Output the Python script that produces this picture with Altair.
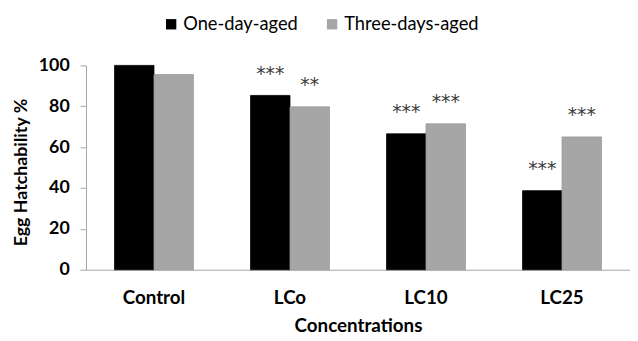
import altair as alt
import pandas as pd

categories = ["Control", "LCo", "LC10", "LC25"]
series_names = ["One-day-aged", "Three-days-aged"]
one_day = [100, 85.3, 66.5, 38.7]
three_days = [95.5, 79.7, 71.4, 65.0]
sig_one = ["", "***", "***", "***"]
sig_three = ["", "**", "***", "***"]

rows = []
for i, c in enumerate(categories):
    rows.append({"conc": c, "series": series_names[0], "value": one_day[i], "sig": sig_one[i]})
    rows.append({"conc": c, "series": series_names[1], "value": three_days[i], "sig": sig_three[i]})
df = pd.DataFrame(rows)

FONT = "Lato"

base = alt.Chart(df).encode(
    x=alt.X(
        "conc:N",
        sort=categories,
        scale=alt.Scale(paddingInner=0.42, paddingOuter=0.21),
        axis=alt.Axis(
            title="Concentrations",
            labelAngle=0,
            ticks=False,
            domainColor="#a6a6a6",
            labelFont=FONT,
            labelFontWeight="bold",
            labelFontSize=19,
            labelColor="#000000",
            labelPadding=19,
            titleFont=FONT,
            titleFontWeight="bold",
            titleFontSize=19,
            titleColor="#000000",
            titlePadding=10,
        ),
    ),
    xOffset=alt.XOffset("series:N", sort=series_names, scale=alt.Scale(paddingInner=0)),
    y=alt.Y(
        "value:Q",
        scale=alt.Scale(domain=[0, 100]),
        axis=alt.Axis(
            title="Egg Hatchability %",
            values=[0, 20, 40, 60, 80, 100],
            grid=False,
            domainColor="#a6a6a6",
            tickColor="#a6a6a6",
            tickSize=6,
            labelFont=FONT,
            labelFontWeight="bold",
            labelFontSize=18,
            labelColor="#000000",
            labelPadding=11,
            titleFont=FONT,
            titleFontWeight="bold",
            titleFontSize=18,
            titleColor="#000000",
            titleX=-56,
            titleY=108,
            titleAngle=270,
            titleAlign="center",
            titleBaseline="bottom",
        ),
    ),
)

bars = base.mark_bar(strokeWidth=0.8).encode(
    color=alt.Color(
        "series:N",
        sort=series_names,
        scale=alt.Scale(domain=series_names, range=["#000000", "#a6a6a6"]),
        legend=alt.Legend(
            title=None,
            orient="none",
            direction="horizontal",
            legendX=77,
            legendY=-51,
            symbolType="square",
            symbolSize=110,
            symbolStrokeWidth=0,
            labelFont=FONT,
            labelFontSize=18.5,
            labelColor="#000000",
            labelOffset=3,
            columnPadding=25,
        ),
    ),
    stroke=alt.Color(
        "series:N",
        sort=series_names,
        scale=alt.Scale(domain=series_names, range=["#000000", "#999999"]),
        legend=None,
    ),
)

text = base.mark_text(dy=-22, fontSize=19, color="#3a3a3a", font="DejaVu Sans", baseline="middle").encode(
    text="sig:N"
)

chart = (
    alt.layer(bars, text)
    .properties(
        width=551,
        height=207,
        padding={"left": 79, "top": 56, "right": 0, "bottom": 66},
        autosize=alt.AutoSizeParams(type="none"),
    )
    .configure_view(stroke=None)
)

chart.save("out.html", embed_options={"renderer": "svg", "actions": False})
